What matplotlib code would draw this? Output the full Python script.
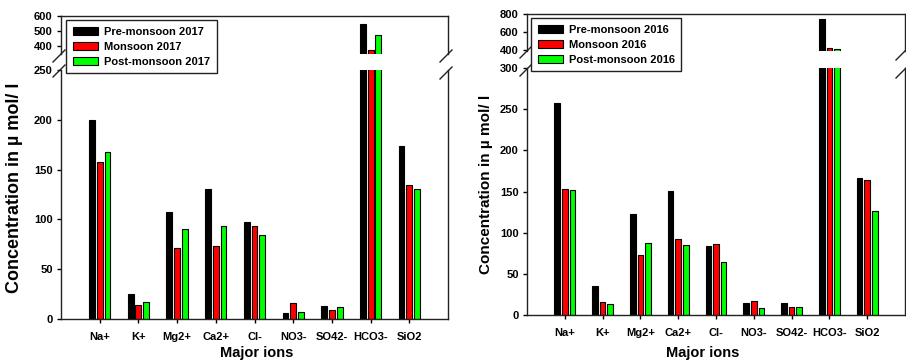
import matplotlib.pyplot as plt
from matplotlib.lines import Line2D
from matplotlib.patches import Patch
import numpy as np

plt.rcParams['font.family'] = ['Liberation Sans', 'DejaVu Sans']
plt.rcParams['font.weight'] = 'bold'

W, H = 906, 362

ions = ["Na+", "K+", "Mg2+", "Ca2+", "Cl-", "NO3-", "SO42-", "HCO3-", "SiO2"]

# concentrations in µmol/l
pre_2017 = [200, 25, 107, 131, 97, 6, 13, 547, 174]
mon_2017 = [158, 14, 71, 73, 93, 16, 9.5, 373, 135]
post_2017 = [168, 17, 90, 93, 84, 7, 12, 473, 131]

pre_2016 = [257, 35, 123, 151, 84, 15, 15, 745, 166]
mon_2016 = [153, 16, 73, 92, 86, 17, 10, 425, 164]
post_2016 = [152, 13, 88, 85, 64, 8, 10, 415, 126]

colors = ["black", "#ff0000", "#00ff00"]


def px_axes(fig, x0, y0, x1, y1):
    return fig.add_axes([x0 / W, 1 - y1 / H, (x1 - x0) / W, (y1 - y0) / H])


def break_mark(fig, x, y, size=6):
    fig.add_artist(Line2D([(x - size) / W, (x + size) / W],
                          [1 - (y + size) / H, 1 - (y - size) / H],
                          transform=fig.transFigure, color="#222222", lw=1))


def panel(fig, series, labels, x0, x1, top, ub, lt, bot, ylim_hi, ylim_lo,
          hi_ticks, lo_ticks, marks, ylabel_pos, ylabel_size, xlabel_pos, legend_pos):
    ax_hi = px_axes(fig, x0, top, x1, ub)
    ax_lo = px_axes(fig, x0, lt, x1, bot)
    x = np.arange(1, len(ions) + 1)
    for k, (vals, c) in enumerate(zip(series, colors)):
        vals = np.array(vals, dtype=float)
        ax_lo.bar(x + (k - 1) * 0.2, vals, width=0.15, color=c,
                  edgecolor="black", linewidth=0.8)
        # upper segment: only the part above the break
        lo = ylim_hi[0]
        sel = vals > lo
        ax_hi.bar((x + (k - 1) * 0.2)[sel], vals[sel] - lo, bottom=lo, width=0.15,
                  color=c, edgecolor="black", linewidth=0.8)
    for ax in (ax_hi, ax_lo):
        ax.set_xlim(0, 10)
        for s in ax.spines.values():
            s.set_linewidth(1)
            s.set_color("#222222")
        ax.tick_params(axis="y", direction="out", length=3, width=1,
                       labelsize=8, pad=3)
    ax_hi.set_ylim(*ylim_hi)
    ax_lo.set_ylim(*ylim_lo)
    ax_hi.set_yticks(hi_ticks)
    ax_lo.set_yticks(lo_ticks)
    ax_hi.spines["bottom"].set_visible(False)
    ax_lo.spines["top"].set_visible(False)
    ax_hi.set_xticks([])
    ax_lo.set_xticks(x)
    ax_lo.set_xticklabels(ions)
    ax_lo.tick_params(axis="x", direction="out", length=3, width=1,
                      labelsize=8, pad=6)

    for (mx, my) in marks:
        break_mark(fig, mx, my)

    fig.text(ylabel_pos[0] / W, 1 - ylabel_pos[1] / H, "Concentration in µ mol/ l",
             rotation=90, ha="center", va="center", fontsize=ylabel_size,
             fontweight="bold")
    fig.text(xlabel_pos[0] / W, 1 - xlabel_pos[1] / H, "Major ions",
             ha="center", va="center", fontsize=10.5, fontweight="bold")

    handles = [Patch(facecolor=c, edgecolor="black", linewidth=0.8) for c in colors]
    leg = fig.legend(handles, labels, loc="upper left",
                     bbox_to_anchor=(legend_pos[0] / W, 1 - legend_pos[1] / H),
                     bbox_transform=fig.transFigure, borderaxespad=0,
                     fontsize=8, fancybox=False, framealpha=1, edgecolor="#222222",
                     handlelength=2.3, handleheight=0.7, handletextpad=0.5,
                     labelspacing=0.45, borderpad=0.6)
    leg.get_frame().set_linewidth(1)
    for t in leg.get_texts():
        t.set_fontweight("bold")


fig = plt.figure(figsize=(W / 100, H / 100), dpi=100)

panel(fig, [pre_2017, mon_2017, post_2017],
      ["Pre-monsoon 2017", "Monsoon 2017", "Post-monsoon 2017"],
      61, 448, 16, 53.5, 70, 319, (350, 600), (0, 250),
      [400, 500, 600], [0, 50, 100, 150, 200, 250],
      [(59, 56), (59, 71), (446, 56), (446, 73)],
      (15, 188), 13, (257, 353), (66, 20))

panel(fig, [pre_2016, mon_2016, post_2016],
      ["Pre-monsoon 2016", "Monsoon 2016", "Post-monsoon 2016"],
      527, 905, 14, 51, 68, 315, (390, 800), (0, 300),
      [400, 600, 800], [0, 50, 100, 150, 200, 250, 300],
      [(526, 52), (526, 70), (902, 54), (902, 72)],
      (486, 184), 11, (703, 353), (531, 18))

fig.savefig("out.png", dpi=100)
